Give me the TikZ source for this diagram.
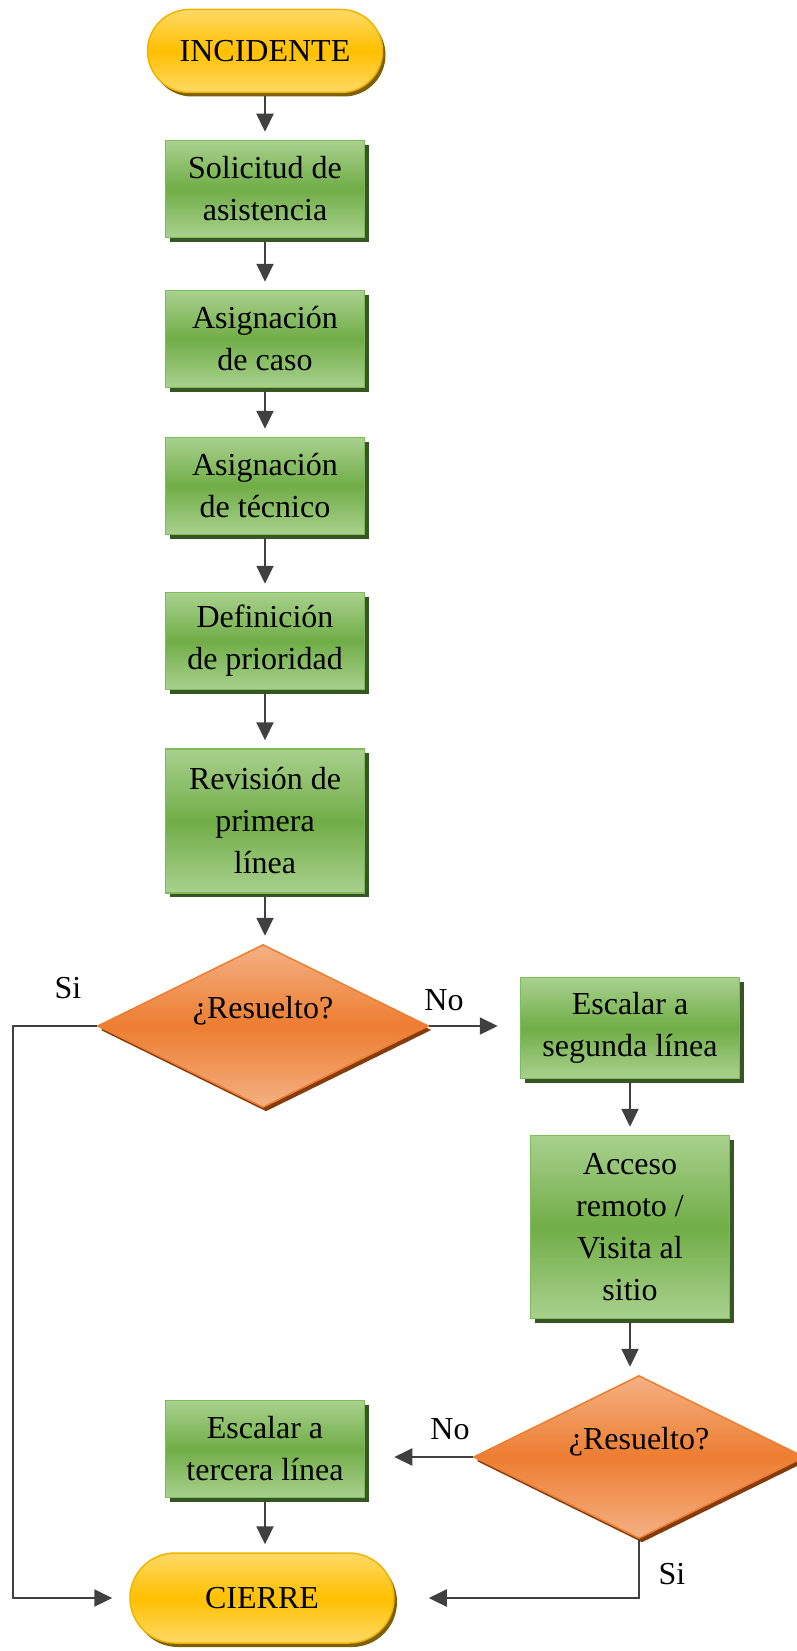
\documentclass[tikz,border=0pt]{standalone}
\usepackage{fontspec}
\setmainfont{Liberation Serif}
\usetikzlibrary{shapes.geometric,shapes.misc,shadows,arrows.meta}
\definecolor{verdeclaro}{HTML}{A9D18E}
\definecolor{verde}{HTML}{70AD47}
\definecolor{verdeborde}{HTML}{7DBB5B}
\definecolor{verdesombra}{HTML}{375623}
\definecolor{naranjaclaro}{HTML}{F4B183}
\definecolor{naranja}{HTML}{ED7D31}
\definecolor{naranjasombra}{HTML}{843C0C}
\definecolor{amarilloclaro}{HTML}{FFD966}
\definecolor{amarillo}{HTML}{FFC000}
\definecolor{amarilloborde}{HTML}{F0B400}
\definecolor{amarillosombra}{HTML}{7F6000}
\definecolor{gris}{HTML}{404040}

\begin{document}
\begin{tikzpicture}[x=1pt,y=-1pt]
\tikzstyle{every node}=[font=\fontsize{32}{42}\selectfont, align=center]
\tikzstyle{proceso}=[rectangle, draw=verdeborde, line width=1.5pt,
                     top color=verdeclaro, bottom color=verdeclaro, middle color=verde,
                     minimum width=199pt, minimum height=97pt, inner sep=0pt,
                     drop shadow={shadow xshift=4pt, shadow yshift=-4pt, fill=verdesombra, opacity=1}]
\tikzstyle{decision}=[diamond, shape aspect=2, draw=naranja, line width=1.5pt,
                      top color=naranjaclaro, bottom color=naranjaclaro, middle color=naranja,
                      minimum width=331pt, minimum height=163pt, inner sep=0pt,
                      text height=24pt, text depth=40pt,
                      drop shadow={shadow xshift=3pt, shadow yshift=-4pt, fill=naranjasombra, opacity=1}]
\tikzstyle{terminal}=[rounded rectangle, draw=amarilloborde, line width=1.5pt,
                      top color=amarilloclaro, bottom color=amarilloclaro, middle color=amarillo,
                      inner sep=0pt,
                      drop shadow={shadow xshift=3pt, shadow yshift=-4pt, fill=amarillosombra, opacity=1}]
\tikzstyle{flecha}=[draw=gris, line width=2.2pt, -{Triangle[length=18pt,width=17pt]},
                    shorten <=3pt, shorten >=8pt]
\useasboundingbox (0,0) rectangle (797,1651);

\node[terminal, minimum width=235pt, minimum height=83pt] (inc) at (265,51) {INCIDENTE};
\node[proceso] (s1) at (265,189) {Solicitud de\\asistencia};
\node[proceso] (s2) at (265,339) {Asignación\\de caso};
\node[proceso] (s3) at (265,486) {Asignación\\de técnico};
\node[proceso] (s4) at (265,641) {Definición\\de prioridad};
\node[proceso, minimum height=144pt] (s5) at (265,821) {Revisión de\\primera\\línea};
\node[decision] (d1) at (263,1026) {¿Resuelto?};
\node[proceso, minimum width=219pt, minimum height=101pt] (s6) at (630,1028) {Escalar a\\segunda línea};
\node[proceso, minimum height=183pt] (s7) at (630,1227) {Acceso\\remoto /\\Visita al\\sitio};
\node[decision] (d2) at (639,1457) {¿Resuelto?};
\node[proceso] (s8) at (265,1449) {Escalar a\\tercera línea};
\node[terminal, minimum width=264pt, minimum height=90pt] (fin) at (262,1598) {CIERRE};

\node (si1) at (68,988) {Si};
\node (no1) at (444,1000) {No};
\node (no2) at (450,1429) {No};
\node (si2) at (672,1574) {Si};
\coordinate (izq) at (13,1598);
\coordinate (der) at (639,1598);

\foreach \i/\j in {inc/s1,s1/s2,s2/s3,s3/s4,s4/s5,s5/d1,s6/s7,s7/d2,s8/fin}{\draw[flecha] (\i.south) -- (\i.south |- \j.north);}
\draw[flecha, shorten <=0pt, shorten >=17pt] (d1.west) -| (izq) -- (fin.west);
\draw[flecha, shorten <=0pt, shorten >=22pt] (d1.east) -- (d1.east -| s6.west);
\draw[flecha, shorten <=0pt, shorten >=29pt] (d2.west) -- (d2.west -| s8.east);
\draw[flecha, shorten <=0pt, shorten >=34pt] (d2.south) -- (der) -- (fin.east);
\end{tikzpicture}
\end{document}
